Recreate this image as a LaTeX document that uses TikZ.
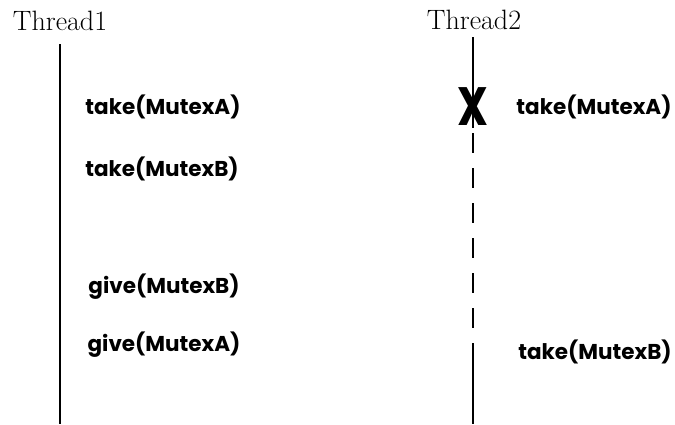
\documentclass[tikz,border=0pt]{standalone}
\usepackage{fontspec}
\newfontfamily\callfont{Poppins}
\tikzset{
  lifeline/.style={line width=2.8pt},
  waitline/.style={line width=2.8pt, dash pattern=on 20pt off 15pt},
  thread/.style={inner sep=0pt, font=\fontsize{28}{32}\selectfont},
  call/.style={inner sep=0pt, font=\callfont\bfseries\fontsize{21.5}{24}\selectfont},
  xmark/.style={inner sep=0pt, xscale=0.8, font=\callfont\bfseries\fontsize{54}{58}\selectfont}
}
\begin{document}
\begin{tikzpicture}[x=1pt,y=-1pt]
		\useasboundingbox (0,0) rectangle (675,424);
		\node[thread] (t1) at (60,21) {Thread1};
		\node[thread] (t2) at (474,20) {Thread2};
		
		\coordinate (t1top) at (60,44);
		\coordinate (t1end) at (60,424);
		\coordinate (t2top) at (473,37);
		\coordinate (t2blk) at (473,128);
		\coordinate (t2wait) at (473,133);
		\coordinate (t2run) at (473,354);
		\coordinate (t2end) at (473,424);
		
		\draw[lifeline] (t1top) -- (t1end);
		\draw[lifeline] (t2top) -- (t2blk);
		\draw[waitline] (t2wait) -- (t2run);
		\draw[lifeline] (t2run) -- (t2end);
		\node[xmark] (blk) at (473,107) {X};
		
		\node[call] (takeA1) at (163,107) {take(MutexA)};
		\node[call] (takeB1) at (162,169) {take(MutexB)};
		\node[call] (giveB1) at (164,287) {give(MutexB)};
		\node[call] (giveA1) at (164,345) {give(MutexA)};
		\node[call] (takeA2) at (594,107) {take(MutexA)};
		\node[call] (takeB2) at (595,352) {take(MutexB)};
		
		\end{tikzpicture}
\end{document}
